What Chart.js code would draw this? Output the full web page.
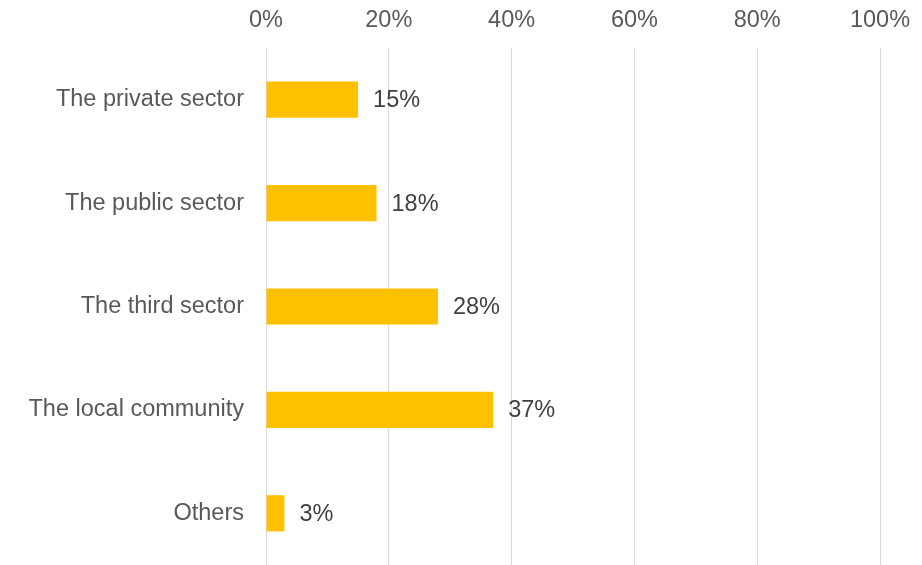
<!DOCTYPE html>
<html>
<head>
<meta charset="utf-8">
<script src="https://cdn.jsdelivr.net/npm/chart.js@4"></script>
<style>
  html, body { margin: 0; padding: 0; background: #fff; overflow: hidden; }
  canvas { display: block; }
</style>
</head>
<body>
<canvas id="myChart" width="922" height="565"></canvas>
<script>
const categories = ["The private sector", "The public sector", "The third sector", "The local community", "Others"];
const shares = [15, 18, 28, 37, 3];
const axisTicks = [0, 20, 40, 60, 80, 100];

const FONT = "'Liberation Sans', Arial, sans-serif";
const FONT_SIZE = 23.5;

// percentage text next to the end of each bar
const valueLabels = {
  id: 'valueLabels',
  afterDatasetsDraw(chart) {
    const ctx = chart.ctx;
    const meta = chart.getDatasetMeta(0);
    ctx.save();
    ctx.font = FONT_SIZE + 'px ' + FONT;
    ctx.fillStyle = '#404040';
    ctx.textAlign = 'left';
    ctx.textBaseline = 'middle';
    meta.data.forEach((bar, i) => {
      ctx.fillText(shares[i] + '%', bar.x + 15, bar.y + 1);
    });
    ctx.restore();
  }
};

new Chart(document.getElementById('myChart'), {
  type: 'bar',
  data: {
    labels: categories,
    datasets: [{
      data: shares,
      backgroundColor: '#FFC000',
      barPercentage: 0.35,
      categoryPercentage: 1
    }]
  },
  options: {
    indexAxis: 'y',
    responsive: false,
    animation: false,
    layout: { padding: { left: 0, right: 42, top: 0, bottom: 0 } },
    plugins: {
      legend: { display: false },
      tooltip: { enabled: false }
    },
    scales: {
      x: {
        position: 'top',
        min: 0,
        max: 100,
        afterBuildTicks(scale) {
          scale.ticks = axisTicks.map(v => ({ value: v }));
        },
        afterFit(scale) {
          scale.height = 48;
          scale.paddingLeft = 0;
          scale.paddingRight = 0;
        },
        border: { display: false },
        grid: { color: '#d9d9d9', lineWidth: 1, drawTicks: false },
        ticks: {
          padding: 13,
          color: '#595959',
          font: { family: FONT, size: FONT_SIZE },
          callback: v => v + '%'
        }
      },
      y: {
        afterFit(scale) {
          scale.width = 266;
          scale.paddingTop = 0;
          scale.paddingBottom = 0;
        },
        border: { display: false },
        grid: { display: false },
        ticks: {
          padding: 14,
          color: '#595959',
          font: { family: FONT, size: FONT_SIZE }
        }
      }
    }
  },
  plugins: [valueLabels]
});
</script>
</body>
</html>
